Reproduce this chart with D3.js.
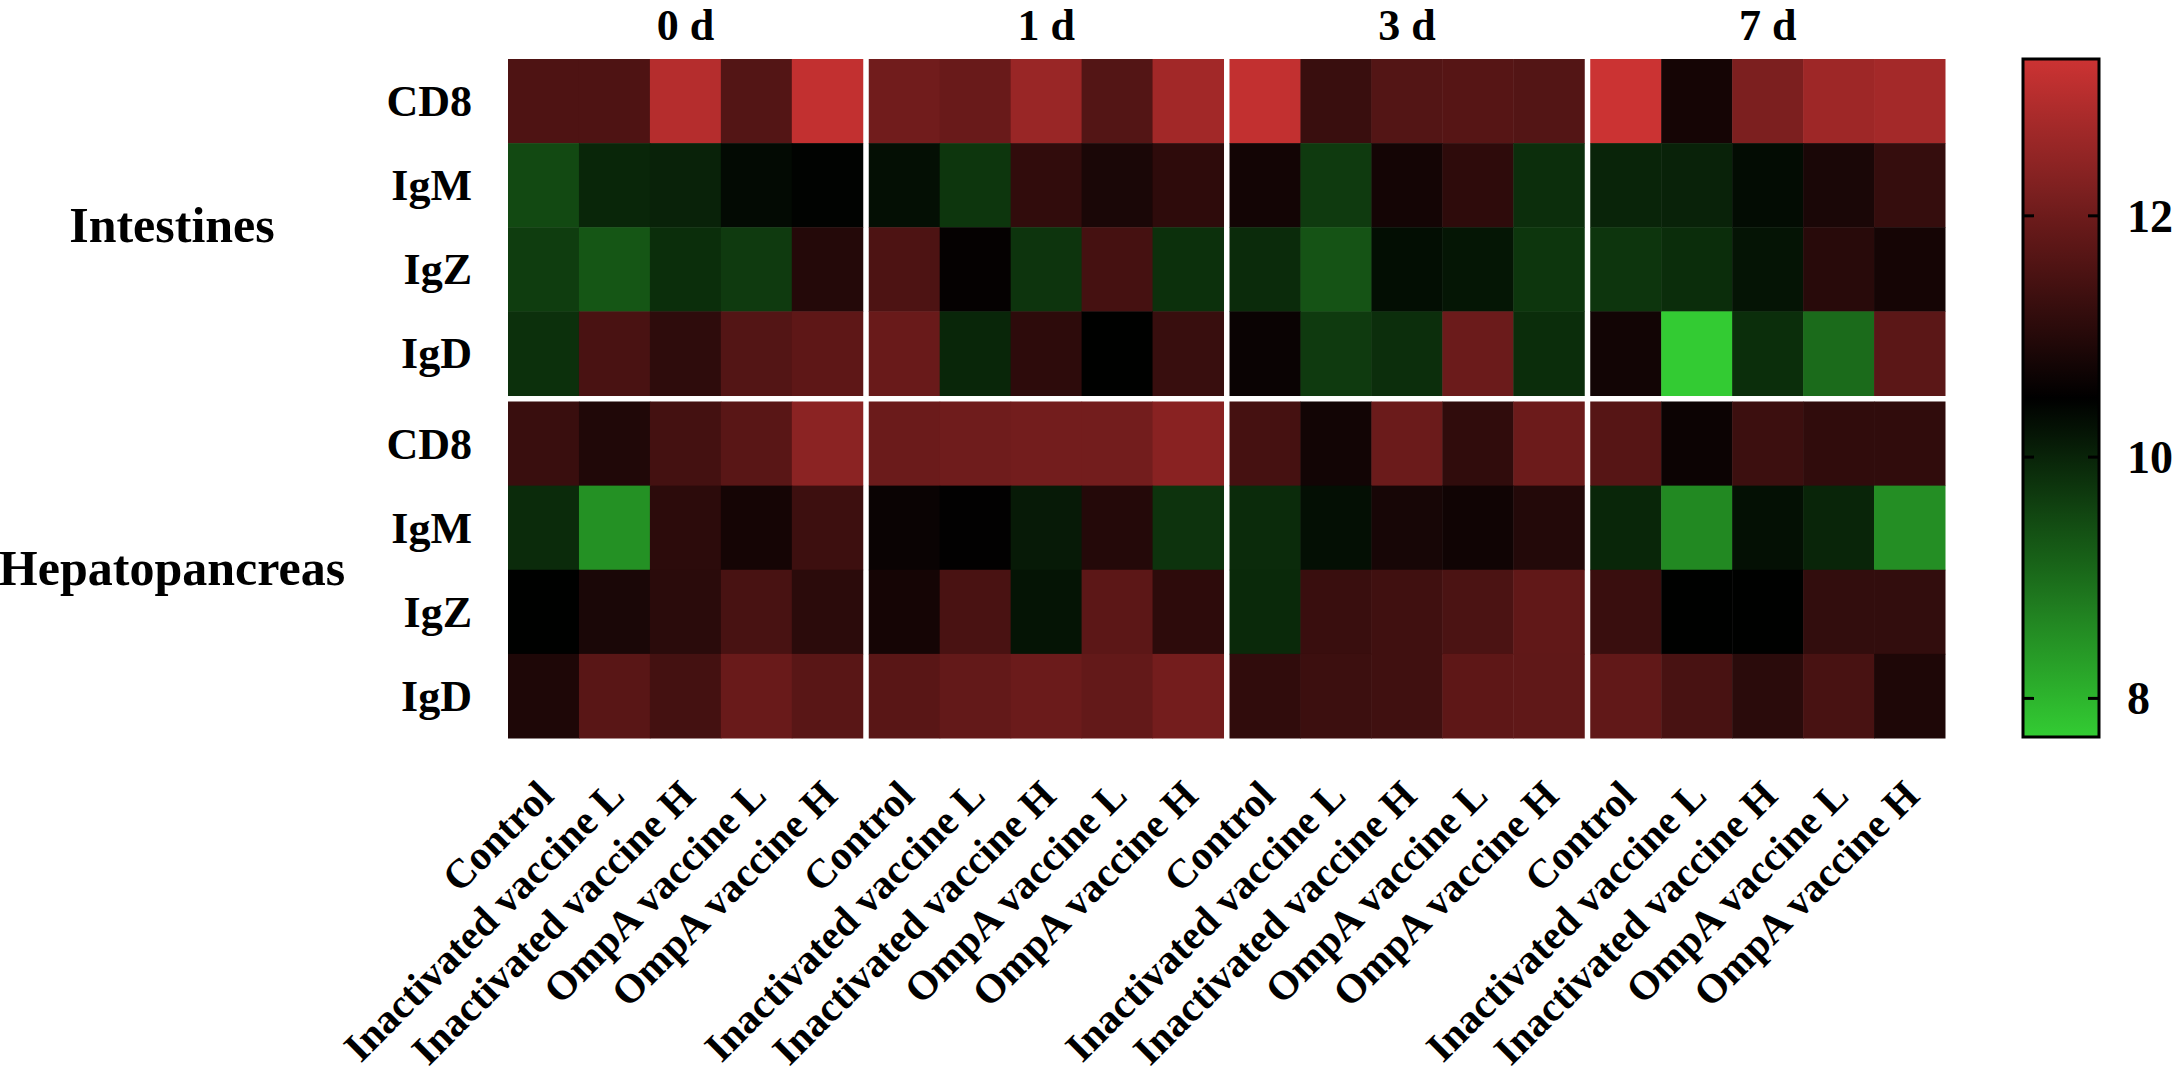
<!DOCTYPE html>
<html>
<head>
<meta charset="utf-8">
<script src="https://cdn.jsdelivr.net/npm/d3@7"></script>
<style>
  body { margin: 0; background: #fff; }
  text { font-family: "Liberation Serif", "Times New Roman", serif; font-weight: bold; fill: #000; }
</style>
</head>
<body>
<svg id="heatmap"></svg>
<script>
var days = ["0 d", "1 d", "3 d", "7 d"];
var treatments = ["Control", "Inactivated vaccine L", "Inactivated vaccine H", "OmpA vaccine L", "OmpA vaccine H"];
var genes = ["CD8", "IgM", "IgZ", "IgD"];
var tissues = ["Intestines", "Hepatopancreas"];
var legendTicks = [8, 10, 12];

// one row per gene, 20 values: 0 d (5 treatments), 1 d, 3 d, 7 d
var intestinesValues = [
  [11.56, 11.56, 12.98, 11.63, 13.16, 12.05, 11.94, 12.60, 11.63, 12.72, 13.16, 11.28, 11.63, 11.67, 11.64, 13.29, 10.78, 12.20, 12.66, 12.75],
  [9.48, 9.97, 10.02, 10.35, 10.45, 10.28, 9.75, 11.16, 10.85, 11.12, 10.75, 9.69, 10.76, 11.12, 9.85, 10.00, 10.02, 10.33, 10.85, 11.22],
  [9.65, 9.31, 9.86, 9.69, 10.99, 11.55, 10.56, 9.78, 11.44, 9.83, 9.90, 9.35, 10.30, 10.19, 9.75, 9.76, 9.87, 10.22, 11.04, 10.78],
  [9.83, 11.50, 11.13, 11.63, 11.78, 11.94, 9.97, 11.11, 10.47, 11.26, 10.63, 9.69, 9.85, 11.96, 9.87, 10.74, 7.69, 9.86, 9.02, 11.75]
];
var hepatopancreasValues = [
  [11.28, 10.93, 11.42, 11.72, 12.40, 11.96, 12.02, 12.07, 12.08, 12.38, 11.44, 10.74, 11.96, 11.15, 11.98, 11.67, 10.65, 11.31, 11.15, 11.15],
  [9.90, 8.49, 11.09, 10.78, 11.33, 10.63, 10.52, 10.13, 10.98, 9.79, 9.90, 10.28, 10.80, 10.71, 10.97, 9.97, 8.60, 10.27, 9.98, 8.53],
  [10.47, 10.85, 11.07, 11.48, 11.08, 10.78, 11.50, 10.22, 11.76, 11.11, 9.93, 11.28, 11.37, 11.52, 11.82, 11.28, 10.47, 10.47, 11.18, 11.18],
  [10.90, 11.72, 11.42, 11.94, 11.72, 11.72, 11.85, 11.97, 11.86, 12.09, 11.15, 11.31, 11.37, 11.78, 11.81, 11.82, 11.48, 11.07, 11.48, 10.90]
];

var W = 2173, H = 1074;
var svg = d3.select("#heatmap").attr("width", W).attr("height", H);

// colour scale: green - black - red
var vMin = 7.68, vMax = 13.3, vMid = (vMin + vMax) / 2;
var color = d3.scaleLinear()
  .domain([vMin, vMid, vMax])
  .range(["#33cc33", "#000000", "#cc3333"])
  .clamp(true);

// scales
var xDay = d3.scaleBand().domain(days).range([508, 1945]).paddingInner(0.0166);
var xTreat = d3.scaleBand().domain(treatments).range([0, xDay.bandwidth()]);
var yTissue = d3.scaleBand().domain(tissues).range([59, 738]).paddingInner(0.0175);
var yGene = d3.scaleBand().domain(genes).range([0, yTissue.bandwidth()]);

// flatten into cells
var cells = [];
[intestinesValues, hepatopancreasValues].forEach(function (rows, ti) {
  rows.forEach(function (row, gi) {
    row.forEach(function (v, i) {
      cells.push({
        tissue: tissues[ti],
        gene: genes[gi],
        day: days[Math.floor(i / 5)],
        treatment: treatments[i % 5],
        value: v
      });
    });
  });
});

svg.append("g").selectAll("rect")
  .data(cells)
  .join("rect")
  .attr("x", function (d) { return xDay(d.day) + xTreat(d.treatment); })
  .attr("y", function (d) { return yTissue(d.tissue) + yGene(d.gene); })
  .attr("width", xTreat.bandwidth() + 0.5)
  .attr("height", yGene.bandwidth() + 0.5)
  .attr("fill", function (d) { return color(d.value); });

// day headers
svg.append("g").selectAll("text")
  .data(days)
  .join("text")
  .attr("x", function (d) { return xDay(d) + xDay.bandwidth() / 2; })
  .attr("y", 40)
  .attr("text-anchor", "middle")
  .style("font-size", "44px")
  .text(function (d) { return d; });

// gene labels per tissue block
tissues.forEach(function (t) {
  svg.append("g").selectAll("text")
    .data(genes)
    .join("text")
    .attr("x", 472)
    .attr("y", function (d) { return yTissue(t) + yGene(d) + yGene.bandwidth() / 2 + 15; })
    .attr("text-anchor", "end")
    .style("font-size", "44px")
    .text(function (d) { return d; });
});

// tissue labels
svg.append("g").selectAll("text")
  .data(tissues)
  .join("text")
  .attr("x", 172)
  .attr("y", function (d) { return yTissue(d) + yTissue.bandwidth() / 2 + 15; })
  .attr("text-anchor", "middle")
  .style("font-size", "50px")
  .text(function (d) { return d; });

// rotated treatment labels under every column
var colLabels = [];
days.forEach(function (day) {
  treatments.forEach(function (tr) { colLabels.push({ day: day, treatment: tr }); });
});
svg.append("g").selectAll("text")
  .data(colLabels)
  .join("text")
  .attr("transform", function (d) {
    var cx = xDay(d.day) + xTreat(d.treatment) + xTreat.bandwidth() / 2 + 12;
    return "translate(" + cx + ",798) rotate(-45)";
  })
  .attr("text-anchor", "end")
  .style("font-size", "41px")
  .text(function (d) { return d.treatment; });

// colour bar
var barX = 2023, barW = 76;
var yLegend = d3.scaleLinear().domain([vMin, vMax]).range([737, 59]);

var grad = svg.append("defs").append("linearGradient")
  .attr("id", "legendGrad")
  .attr("x1", "0").attr("y1", "1").attr("x2", "0").attr("y2", "0");
grad.selectAll("stop")
  .data(d3.range(0, 1.0001, 0.05))
  .join("stop")
  .attr("offset", function (d) { return d; })
  .attr("stop-color", function (d) { return color(vMin + d * (vMax - vMin)); });

svg.append("rect")
  .attr("x", barX)
  .attr("y", yLegend(vMax))
  .attr("width", barW)
  .attr("height", yLegend(vMin) - yLegend(vMax))
  .attr("fill", "url(#legendGrad)")
  .attr("stroke", "#000")
  .attr("stroke-width", 3);

// inward tick marks on both edges
var tickG = svg.append("g");
tickG.selectAll("line.l")
  .data(legendTicks)
  .join("line")
  .attr("class", "l")
  .attr("x1", barX).attr("x2", barX + 11)
  .attr("y1", function (d) { return yLegend(d); })
  .attr("y2", function (d) { return yLegend(d); })
  .attr("stroke", "#000").attr("stroke-width", 3);
tickG.selectAll("line.r")
  .data(legendTicks)
  .join("line")
  .attr("class", "r")
  .attr("x1", barX + barW - 11).attr("x2", barX + barW)
  .attr("y1", function (d) { return yLegend(d); })
  .attr("y2", function (d) { return yLegend(d); })
  .attr("stroke", "#000").attr("stroke-width", 3);
tickG.selectAll("text")
  .data(legendTicks)
  .join("text")
  .attr("x", 2127)
  .attr("y", function (d) { return yLegend(d) + 16; })
  .style("font-size", "46px")
  .text(function (d) { return d; });
</script>
</body>
</html>
